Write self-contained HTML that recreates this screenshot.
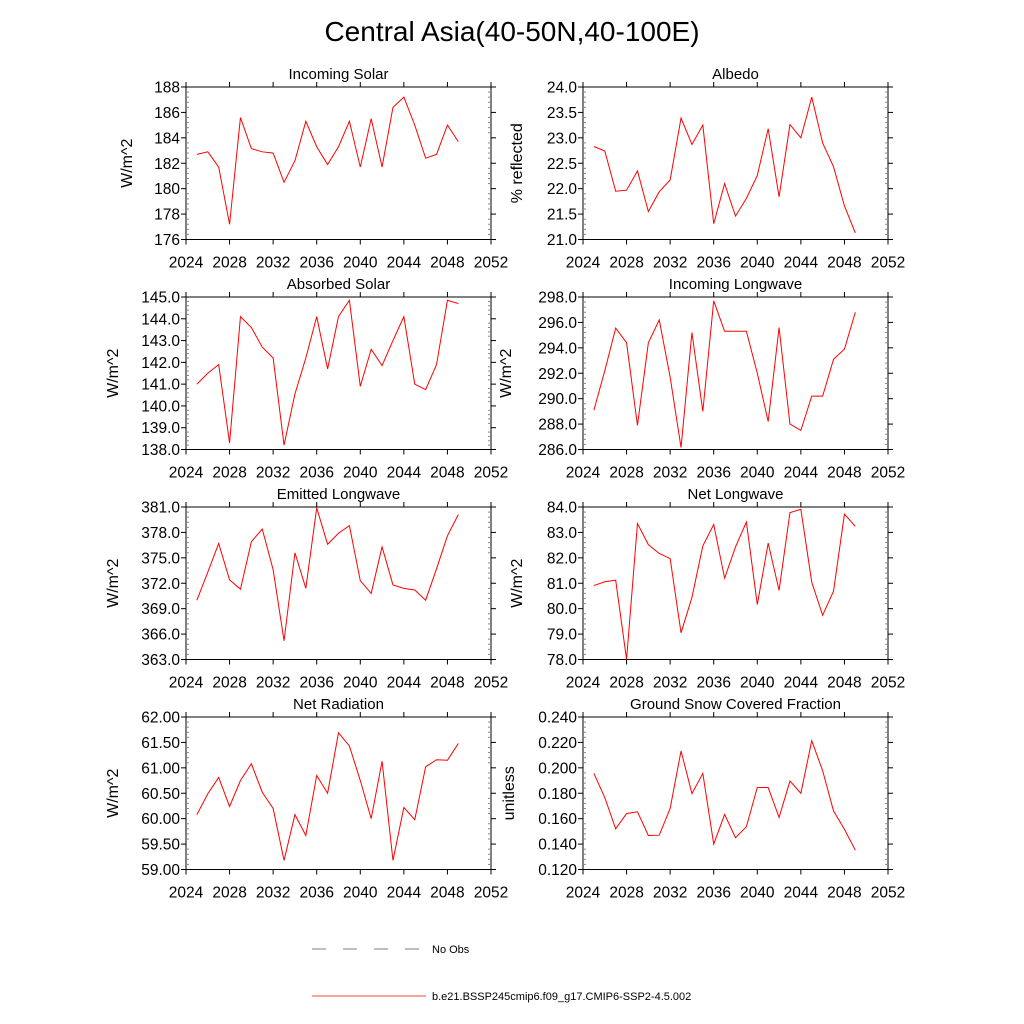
<!DOCTYPE html>
<html><head><meta charset="utf-8"><style>
html,body{margin:0;padding:0;background:#fff;}
svg{display:block;font-family:"Liberation Sans",sans-serif;}
</style></head><body>
<svg id="chart" width="1024" height="1024" viewBox="0 0 1024 1024">
<text x="512" y="41" text-anchor="middle" font-size="28">Central Asia(40-50N,40-100E)</text>
<g>
<line x1="312" y1="949" x2="420" y2="949" stroke="#555" stroke-width="0.7" stroke-dasharray="14,17"/>
<text x="432" y="953" font-size="11">No Obs</text>
<line x1="312" y1="996" x2="426" y2="996" stroke="#f00" stroke-width="0.7"/>
<text x="432" y="1000" font-size="11">b.e21.BSSP245cmip6.f09_g17.CMIP6-SSP2-4.5.002</text>
</g>
</svg>
<script>
const years = [2025,2026,2027,2028,2029,2030,2031,2032,2033,2034,2035,2036,2037,2038,2039,2040,2041,2042,2043,2044,2045,2046,2047,2048,2049];
const xTicks = [2024,2028,2032,2036,2040,2044,2048,2052];
const incomingSolar = [182.7,182.9,181.7,177.2,185.6,183.15,182.9,182.8,180.5,182.2,185.3,183.3,181.9,183.3,185.3,181.7,185.5,181.7,186.4,187.2,185.0,182.4,182.7,185.0,183.7];
const absorbedSolar = [141.0,141.5,141.9,138.3,144.1,143.6,142.7,142.2,138.2,140.55,142.2,144.1,141.7,144.1,144.85,140.9,142.6,141.85,143.0,144.1,141.0,140.75,141.9,144.85,144.7];
const albedo = [22.83,22.74,21.95,21.97,22.35,21.55,21.94,22.17,23.39,22.87,23.25,21.31,22.1,21.46,21.81,22.26,23.18,21.84,23.26,23.0,23.8,22.9,22.43,21.66,21.13];
const incomingLW = [289.1,292.2,295.55,294.4,287.9,294.4,296.2,291.7,286.15,295.2,289.0,297.7,295.3,295.3,295.3,292.0,288.2,295.6,288.0,287.5,290.2,290.2,293.1,293.9,296.8];
const emittedLW = [370.0,373.3,376.7,372.4,371.3,376.9,378.4,373.6,365.2,375.6,371.4,380.9,376.6,377.9,378.8,372.3,370.8,376.3,371.8,371.4,371.2,370.0,373.7,377.6,380.1];
const netLW = [80.91,81.06,81.12,78.0,83.35,82.52,82.17,81.97,79.05,80.44,82.47,83.31,81.2,82.43,83.41,80.16,82.58,80.72,83.78,83.91,81.04,79.74,80.69,83.72,83.24];
const netRad = [60.08,60.49,60.81,60.24,60.75,61.08,60.52,60.2,59.18,60.08,59.67,60.85,60.5,61.69,61.43,60.75,60.0,61.13,59.18,60.22,59.98,61.02,61.16,61.15,61.48];
const snowFrac = [0.1956,0.1766,0.152,0.164,0.1654,0.1468,0.147,0.168,0.2133,0.1797,0.1956,0.14,0.1633,0.145,0.1537,0.1845,0.1845,0.161,0.1896,0.18,0.2213,0.1977,0.166,0.1517,0.1352];
const ticksIS = [176,178,180,182,184,186,188];
const ticksAS = [138,139,140,141,142,143,144,145];
const ticksAL = [21,21.5,22,22.5,23,23.5,24];
const ticksIL = [286,288,290,292,294,296,298];
const ticksEL = [363,366,369,372,375,378,381];
const ticksNL = [78,79,80,81,82,83,84];
const ticksNR = [59,59.5,60,60.5,61,61.5,62];
const ticksSN = [0.12,0.14,0.16,0.18,0.2,0.22,0.24];

const NS="http://www.w3.org/2000/svg";
const svg=document.getElementById('chart');
function mk(tag,attrs,parent){const e=document.createElementNS(NS,tag);for(const k in attrs)e.setAttribute(k,attrs[k]);parent.appendChild(e);return e;}

const panels=[
 {slug:'incoming-solar',title:'Incoming Solar',yt:'W/m^2',data:incomingSolar,ticks:ticksIS,dec:0,col:0,row:0,yo:59},
 {slug:'albedo',title:'Albedo',yt:'% reflected',data:albedo,ticks:ticksAL,dec:1,col:1,row:0,yo:66},
 {slug:'absorbed-solar',title:'Absorbed Solar',yt:'W/m^2',data:absorbedSolar,ticks:ticksAS,dec:1,col:0,row:1,yo:73},
 {slug:'incoming-longwave',title:'Incoming Longwave',yt:'W/m^2',data:incomingLW,ticks:ticksIL,dec:1,col:1,row:1,yo:77},
 {slug:'emitted-longwave',title:'Emitted Longwave',yt:'W/m^2',data:emittedLW,ticks:ticksEL,dec:1,col:0,row:2,yo:73},
 {slug:'net-longwave',title:'Net Longwave',yt:'W/m^2',data:netLW,ticks:ticksNL,dec:1,col:1,row:2,yo:66},
 {slug:'net-radiation',title:'Net Radiation',yt:'W/m^2',data:netRad,ticks:ticksNR,dec:2,col:0,row:3,yo:73},
 {slug:'snow-fraction',title:'Ground Snow Covered Fraction',yt:'unitless',data:snowFrac,ticks:ticksSN,dec:3,col:1,row:3,yo:74}
];
const lefts=[186,583], W=305, tops=[87,297,507,717], H=152.5;

panels.forEach(p=>{
  const L=lefts[p.col], T=tops[p.row], R=L+W, B=T+H;
  const g=mk('g',{},svg);
  
  
  const x0=xTicks[0], x1=xTicks[xTicks.length-1];
  const y0=p.ticks[0], y1=p.ticks[p.ticks.length-1];
  const xs=v=>L+(v-x0)/(x1-x0)*W;
  const ys=v=>B-(v-y0)/(y1-y0)*H;
  const frame=mk('rect',{x:L,y:T,width:W,height:H,fill:'none',stroke:'#000','stroke-width':1},g);
  
  
  for(let k=0;k<xTicks.length;k++){
    const X=xs(xTicks[k]);
    mk('line',{x1:X,y1:B,x2:X,y2:B+5,stroke:'#000','stroke-width':1},g);
    mk('line',{x1:X,y1:T,x2:X,y2:T-5,stroke:'#000','stroke-width':1},g);
    const t=mk('text',{x:X,y:B+28,'text-anchor':'middle','font-size':15.5},g);
    t.textContent=xTicks[k];
    
    
  }
  for(let i=0;i<p.ticks.length;i++){
    const Y=ys(p.ticks[i]);
    mk('line',{x1:L-5,y1:Y,x2:L,y2:Y,stroke:'#000','stroke-width':1},g);
    mk('line',{x1:R,y1:Y,x2:R+5,y2:Y,stroke:'#000','stroke-width':1},g);
    const t=mk('text',{x:L-6,y:Y+5.5,'text-anchor':'end','font-size':15.5},g);
    t.textContent=p.ticks[i].toFixed(p.dec);
    
    
    if(i<p.ticks.length-1){
      const step=(p.ticks[i+1]-p.ticks[i])/5;
      for(let k=1;k<5;k++){
        const Ym=ys(p.ticks[i]+step*k);
        mk('line',{x1:L,y1:Ym,x2:L+3,y2:Ym,stroke:'#888','stroke-width':1},g);
        mk('line',{x1:R-3,y1:Ym,x2:R,y2:Ym,stroke:'#888','stroke-width':1},g);
      }
    }
  }
  const tt=mk('text',{x:L+W/2,y:T-8,'text-anchor':'middle','font-size':15},g);
  tt.textContent=p.title;
  
  
  const yx=L-p.yo+5;
  const ya=mk('text',{x:yx,y:T+H/2,'text-anchor':'middle','font-size':16,transform:`rotate(-90 ${yx} ${T+H/2})`},g);
  ya.textContent=p.yt;
  
  
  const pts=p.data.map((v,i)=>xs(years[i]).toFixed(2)+','+ys(v).toFixed(2)).join(' ');
  const line=mk('polyline',{points:pts,fill:'none',stroke:'#f00','stroke-width':1},g);
  
  
});
</script>
</body></html>
